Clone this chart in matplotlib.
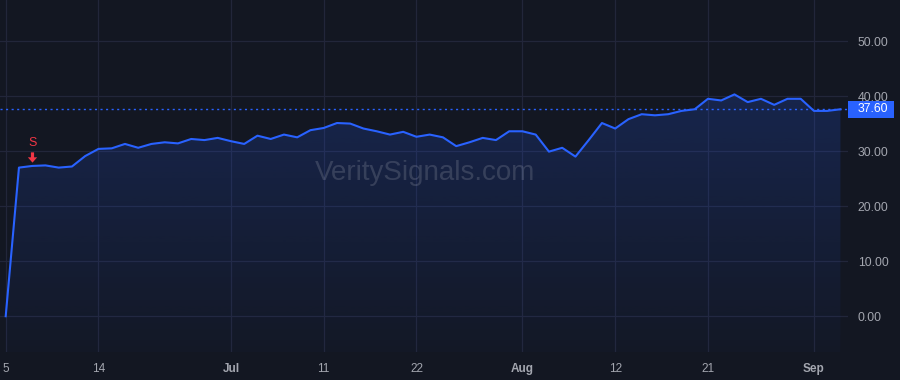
import matplotlib
matplotlib.use("Agg")
import matplotlib.pyplot as plt
import numpy as np
import pandas as pd
from matplotlib.patches import Rectangle
from matplotlib.path import Path

plt.rcParams['font.family'] = ['Liberation Sans', 'DejaVu Sans']

# ---- data ----
holidays = ["2024-06-19", "2024-07-04", "2024-09-02"]
dates = [d for d in pd.bdate_range("2024-06-05", "2024-09-05")
         if d.strftime("%Y-%m-%d") not in holidays]

values = [0.0, 27.0, 27.3, 27.4, 27.0, 27.2, 29.1, 30.4, 30.5, 31.3,
          30.6, 31.3, 31.6, 31.4, 32.2, 32.0, 32.4, 31.8, 31.3, 32.8,
          32.2, 33.0, 32.5, 33.8, 34.2, 35.1, 35.0, 34.1, 33.6, 33.0,
          33.5, 32.6, 33.0, 32.5, 30.9, 31.6, 32.4, 32.0, 33.6, 33.6,
          33.0, 29.9, 30.6, 29.0, 32.0, 35.1, 34.1, 35.8, 36.7, 36.5,
          36.7, 37.3, 37.6, 39.5, 39.2, 40.3, 38.9, 39.5, 38.4, 39.5,
          39.5, 37.3, 37.3, 37.6]

tick_dates = ["2024-06-05", "2024-06-14", "2024-07-01", "2024-07-11", "2024-07-22",
              "2024-08-01", "2024-08-12", "2024-08-21", "2024-09-03"]
tick_labels = ["5", "14", "Jul", "11", "22", "Aug", "12", "21", "Sep"]
bold_labels = ["Jul", "Aug", "Sep"]

y_ticks = [0, 10, 20, 30, 40, 50]
last_value = 37.60
signal_date = "2024-06-07"
signal_label = "S"

# ---- style ----
BG = "#131722"
GRID = "#22263a"
LINE = "#2962FF"
TXT = "#a3a6af"
RED = "#f23645"

W, H = 900, 380
AX_R = 848
AX_B = 352
fig = plt.figure(figsize=(W / 100, H / 100), dpi=100, facecolor=BG)
ax = fig.add_axes([0, (H - AX_B) / H, AX_R / W, AX_B / H])
ax.set_facecolor(BG)

date_str = [d.strftime("%Y-%m-%d") for d in dates]
x = np.arange(len(values))
y = np.array(values)

STEP = 13.25
X0 = 5.7
ax.set_xlim(-X0 / STEP, (AX_R - X0) / STEP)
ax.set_ylim(-6.5, 57.45)

# gradient fill under line
poly = ax.fill_between(x, y, -6.5, facecolor="none", edgecolor="none")
grad = np.linspace(0.02, 0.20, 256).reshape(-1, 1)
rgba = np.zeros((256, 1, 4))
rgba[..., 0] = 41 / 255
rgba[..., 1] = 98 / 255
rgba[..., 2] = 1.0
rgba[..., 3] = grad
im = ax.imshow(rgba, extent=[x[0], x[-1], -6.5, 42], origin="lower",
               aspect="auto", zorder=1, interpolation="bilinear")
im.set_clip_path(poly.get_paths()[0], transform=ax.transData)

ax.plot(x, y, color=LINE, lw=1.5, zorder=3, solid_joinstyle="round")

# grid
tick_pos = [date_str.index(t) for t in tick_dates]
for tp in tick_pos:
    ax.axvline(tp, color=GRID, lw=0.9, zorder=0)
for yt in y_ticks:
    ax.axhline(yt, color=GRID, lw=0.9, zorder=0)

# last value dotted line
ax.axhline(last_value, color=LINE, lw=1, ls=(0, (1.5, 2.5)), zorder=2)

for s in ax.spines.values():
    s.set_visible(False)

ax.set_xticks(tick_pos)
ax.set_xticklabels(tick_labels)
for lbl in ax.get_xticklabels():
    lbl.set_color(TXT)
    lbl.set_fontsize(8.5)
    if lbl.get_text() in bold_labels:
        lbl.set_fontweight("bold")
ax.tick_params(axis="x", length=0, pad=8)

ax.yaxis.tick_right()
ax.set_yticks(y_ticks)
ax.set_yticklabels([f"{v:.2f}" for v in y_ticks])
ax.tick_params(axis="y", length=0, pad=7, labelsize=8.8, labelcolor=TXT)

# last value label box
fig.canvas.draw()
yc_pix = ax.transData.transform((0, last_value))[1]
box_h = 17
rect = Rectangle((AX_R / W, (yc_pix - box_h / 2) / H), 46 / W, box_h / H,
                 transform=fig.transFigure, facecolor=LINE, edgecolor="none",
                 zorder=5, clip_on=False)
fig.patches.append(rect)
fig.text(858 / W, yc_pix / H, f"{last_value:.2f}", color="white", fontsize=8.8,
         ha="left", va="center", zorder=6)

# signal marker (down arrow, centred path)
si = date_str.index(signal_date)
arrow = Path([(-0.17, 0.55), (0.17, 0.55), (0.17, 0.02), (0.5, 0.02), (0.0, -0.55),
              (-0.5, 0.02), (-0.17, 0.02), (-0.17, 0.55)],
             [Path.MOVETO] + [Path.LINETO] * 6 + [Path.CLOSEPOLY])
ax.plot([si], [values[si] + 1.65], marker=arrow, markersize=7.4, color=RED,
        markeredgewidth=0, zorder=6, clip_on=False)
ax.text(si, values[si] + 4.2, signal_label, color=RED, fontsize=9, ha="center", va="center")

# watermark
fig.text(425 / W, 1 - 173 / H, "VeritySignals.com", color="#ffffff", alpha=0.14,
         fontsize=20, ha="center", va="center")

fig.savefig("out.png", dpi=100, facecolor=BG)
